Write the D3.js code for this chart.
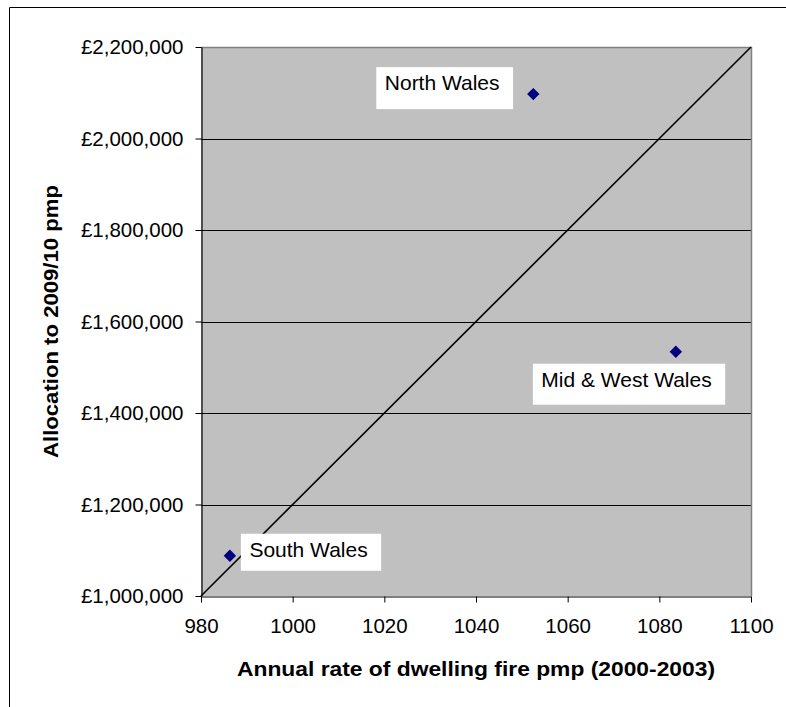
<!DOCTYPE html>
<html>
<head>
<meta charset="utf-8">
<script src="https://cdn.jsdelivr.net/npm/d3@7"></script>
<style>
  html, body { margin: 0; padding: 0; background: #fff; }
  svg { display: block; }
  text { font-family: "Liberation Sans", Arial, sans-serif; fill: #000; }
</style>
</head>
<body>
<script>
// Fire and rescue authorities: dwelling fire rate vs. allocation per million population
const authorities = ["North Wales", "Mid & West Wales", "South Wales"];
const fireRate = [1052.5, 1083.6, 986.3];
const allocation = [2097000, 1534000, 1088000];

const xTicks = [980, 1000, 1020, 1040, 1060, 1080, 1100];
const yTicks = [1000000, 1200000, 1400000, 1600000, 1800000, 2000000, 2200000];

const xTitle = "Annual rate of dwelling fire pmp (2000-2003)";
const yTitle = "Allocation to 2009/10 pmp";

const W = 786, H = 707;
const plot = { left: 201, top: 47, right: 751, bottom: 596 };

const svg = d3.select("body").append("svg").attr("width", W).attr("height", H);

// outer chart frame (top and left edges visible)
svg.append("path")
  .attr("d", "M9.5,800 V7.5 H800")
  .attr("fill", "none").attr("stroke", "#000").attr("stroke-width", 1);

const x = d3.scaleLinear().domain([980, 1100]).range([plot.left, plot.right]);
const y = d3.scaleLinear().domain([1000000, 2200000]).range([plot.bottom, plot.top]);

// plot area
svg.append("rect")
  .attr("x", plot.left).attr("y", plot.top)
  .attr("width", plot.right - plot.left).attr("height", plot.bottom - plot.top)
  .attr("fill", "#c0c0c0");

// gridlines
svg.append("g")
  .selectAll("line")
  .data(yTicks.filter(v => v > 1000000 && v < 2200000))
  .join("line")
  .attr("x1", plot.left).attr("x2", plot.right)
  .attr("y1", d => Math.round(y(d)) + 0.5).attr("y2", d => Math.round(y(d)) + 0.5)
  .attr("stroke", "#000").attr("stroke-width", 1);

// grey border on top and right
svg.append("path")
  .attr("d", `M${plot.left},${plot.top + 0.5} H${plot.right + 0.5} V${plot.bottom}`)
  .attr("fill", "none").attr("stroke", "#808080").attr("stroke-width", 1.5);

// equality diagonal
svg.append("line")
  .attr("x1", x(980)).attr("y1", y(1000000))
  .attr("x2", x(1100)).attr("y2", y(2200000))
  .attr("stroke", "#000").attr("stroke-width", 1.6);

// axes
const fmtMoney = v => "£" + d3.format(",")(v);

const xAxis = svg.append("g")
  .attr("transform", `translate(0,${plot.bottom + 0.5})`)
  .call(d3.axisBottom(x).tickValues(xTicks).tickFormat(d3.format("d")).tickSize(6).tickSizeOuter(0));
const yAxis = svg.append("g")
  .attr("transform", `translate(${plot.left + 0.5},0)`)
  .call(d3.axisLeft(y).tickValues(yTicks).tickFormat(fmtMoney).tickSize(6).tickSizeOuter(0).tickPadding(12));

[xAxis, yAxis].forEach(g => {
  g.select(".domain").attr("stroke", "#000").attr("stroke-width", 1.2);
  g.selectAll(".tick line").attr("stroke", "#000").attr("stroke-width", 1);
  g.selectAll(".tick text")
    .style("font-family", '"Liberation Sans", Arial, sans-serif')
    .style("font-size", "20.5px").attr("fill", "#000");
});
xAxis.selectAll(".tick text").attr("dy", "0.71em").attr("y", 22);

// axis titles
svg.append("text")
  .attr("x", (plot.left + plot.right) / 2).attr("y", 676)
  .attr("text-anchor", "middle")
  .style("font-size", "20px").style("font-weight", "bold")
  .attr("textLength", 478).attr("lengthAdjust", "spacingAndGlyphs")
  .text(xTitle);

svg.append("text")
  .attr("transform", `translate(58,${(plot.top + plot.bottom) / 2}) rotate(-90)`)
  .attr("text-anchor", "middle")
  .style("font-size", "21px").style("font-weight", "bold")
  .attr("textLength", 273).attr("lengthAdjust", "spacingAndGlyphs")
  .text(yTitle);

// label box placement relative to each marker
const labelPlacement = {
  "North Wales": { dx: -157, dy: -27, h: 42 },
  "Mid & West Wales": { dx: -143, dy: 12, h: 41 },
  "South Wales": { dx: 11, dy: -22, h: 37 }
};

const points = authorities.map((name, i) => ({ name, fx: fireRate[i], fy: allocation[i] }));

const labels = svg.append("g").selectAll("g").data(points).join("g");
labels.each(function (d) {
  const g = d3.select(this);
  const p = labelPlacement[d.name];
  const bx = x(d.fx) + p.dx, by = y(d.fy) + p.dy;
  const rect = g.append("rect").attr("fill", "#fff");
  const t = g.append("text")
    .attr("x", bx + 8.5).attr("y", by + 23)
    .style("font-size", "21px")
    .text(d.name);
  const tw = t.node().getComputedTextLength();
  rect.attr("x", bx).attr("y", by).attr("width", tw + 22).attr("height", p.h);
});

// markers
const diamond = d3.symbol().type(d3.symbolDiamond2).size(98);
svg.append("g").selectAll("path").data(points).join("path")
  .attr("d", diamond)
  .attr("transform", d => `translate(${x(d.fx)},${y(d.fy)})`)
  .attr("fill", "#000080");
</script>
</body>
</html>
